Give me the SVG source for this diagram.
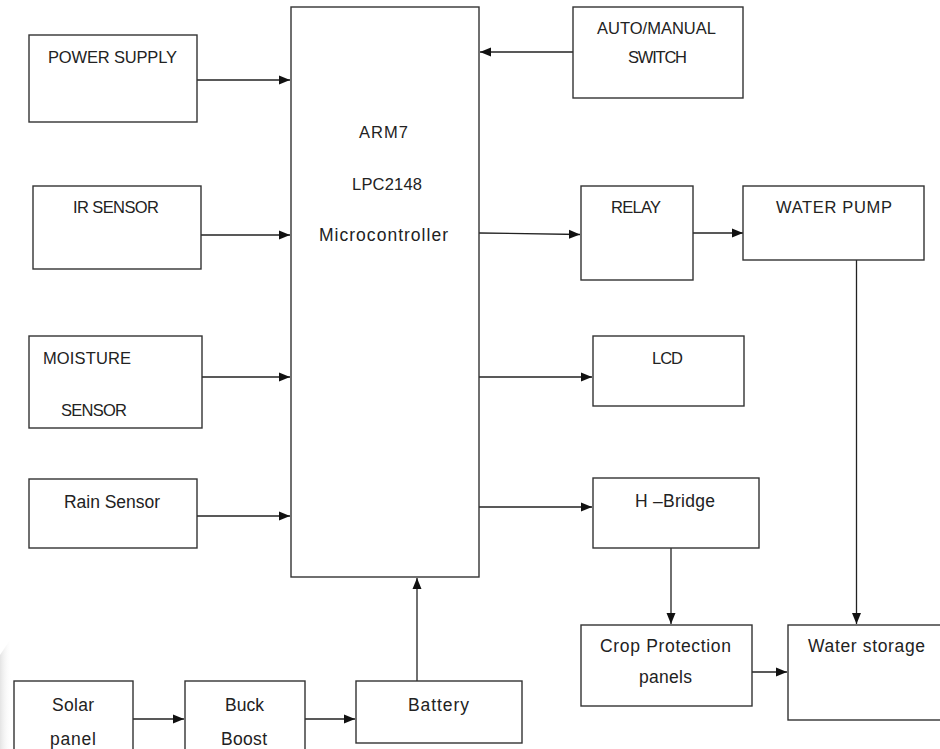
<svg xmlns="http://www.w3.org/2000/svg" width="940" height="749" viewBox="0 0 940 749">
<defs>
<style>
.box{fill:#fff;stroke:#333;stroke-width:1.4}
.ln{fill:none;stroke:#222;stroke-width:1.3}
text{font-family:"Liberation Sans",Arial,sans-serif;font-size:17.5px;fill:#222}
.cap{font-size:16.5px}
</style>
<marker id="ah" markerUnits="userSpaceOnUse" markerWidth="12" markerHeight="10" refX="11" refY="5" orient="auto">
<path d="M0,0.5 L11,5 L0,9.5 Z" fill="#111"/>
</marker>
<linearGradient id="shade" x1="0" y1="0" x2="1" y2="0">
<stop offset="0" stop-color="#e4e4e4"/>
<stop offset="1" stop-color="#ffffff" stop-opacity="0"/>
</linearGradient>
</defs>
<rect width="940" height="749" fill="#fff"/>
<polygon points="0,655 10,640 12,749 0,749" fill="url(#shade)"/>

<g id="connectors">
<path class="ln" marker-end="url(#ah)" d="M197,80 H290"/>
<path class="ln" marker-end="url(#ah)" d="M201,235 H290"/>
<path class="ln" marker-end="url(#ah)" d="M202,377 H290"/>
<path class="ln" marker-end="url(#ah)" d="M197,516 H290"/>
<path class="ln" marker-end="url(#ah)" d="M573,52 H480"/>
<path class="ln" marker-end="url(#ah)" d="M479,233 L580,234.5"/>
<path class="ln" marker-end="url(#ah)" d="M693,233 H743"/>
<path class="ln" marker-end="url(#ah)" d="M479,377 H592"/>
<path class="ln" marker-end="url(#ah)" d="M479,507 H592"/>
<path class="ln" marker-end="url(#ah)" d="M671,548 V624"/>
<path class="ln" marker-end="url(#ah)" d="M856.5,260 V624"/>
<path class="ln" marker-end="url(#ah)" d="M752,672 H787"/>
<path class="ln" marker-end="url(#ah)" d="M133,719 H184"/>
<path class="ln" marker-end="url(#ah)" d="M305,719 H355"/>
<path class="ln" marker-end="url(#ah)" d="M417,681 V578"/>
</g>

<g id="power-supply"><rect class="box" x="29" y="35" width="168" height="87"/><text class="cap" x="48" y="63" textLength="129">POWER SUPPLY</text></g>
<g id="ir-sensor"><rect class="box" x="33" y="186" width="168" height="83"/><text class="cap" x="73" y="213" textLength="86">IR SENSOR</text></g>
<g id="moisture-sensor"><rect class="box" x="29" y="336" width="173" height="92"/><text class="cap" x="43" y="364" textLength="88">MOISTURE</text><text class="cap" x="61" y="416" textLength="66">SENSOR</text></g>
<g id="rain-sensor"><rect class="box" x="29" y="479" width="168" height="69"/><text x="64" y="508" textLength="96">Rain Sensor</text></g>
<g id="microcontroller"><rect class="box" x="291" y="7" width="188" height="570"/><text class="cap" x="359" y="138" textLength="49">ARM7</text><text class="cap" x="352" y="190" textLength="70">LPC2148</text><text x="319" y="241" textLength="129">Microcontroller</text></g>
<g id="auto-manual-switch"><rect class="box" x="573" y="7" width="170" height="91"/><text class="cap" x="597" y="34" textLength="119">AUTO/MANUAL</text><text class="cap" x="628" y="63" textLength="59">SWITCH</text></g>
<g id="relay"><rect class="box" x="581" y="186" width="112" height="94"/><text class="cap" x="611" y="213" textLength="50">RELAY</text></g>
<g id="water-pump"><rect class="box" x="743" y="186" width="181" height="74"/><text class="cap" x="776" y="213" textLength="116">WATER PUMP</text></g>
<g id="lcd"><rect class="box" x="593" y="336" width="151" height="70"/><text class="cap" x="652" y="364" textLength="31">LCD</text></g>
<g id="h-bridge"><rect class="box" x="593" y="478" width="166" height="70"/><text x="635" y="507" textLength="80">H –Bridge</text></g>
<g id="crop-protection"><rect class="box" x="581" y="625" width="171" height="81"/><text x="600" y="652" textLength="131">Crop Protection</text><text x="639" y="683" textLength="53">panels</text></g>
<g id="water-storage"><rect class="box" x="788" y="625" width="170" height="95"/><text x="808" y="652" textLength="117">Water storage</text></g>
<g id="solar-panel"><rect class="box" x="14" y="681" width="119" height="80"/><text x="52" y="711" textLength="42">Solar</text><text x="50" y="745" textLength="46">panel</text></g>
<g id="buck-boost"><rect class="box" x="185" y="681" width="120" height="80"/><text x="225" y="711" textLength="39">Buck</text><text x="221" y="745" textLength="46">Boost</text></g>
<g id="battery"><rect class="box" x="356" y="681" width="166" height="62"/><text x="408" y="711" textLength="61">Battery</text></g>
</svg>
